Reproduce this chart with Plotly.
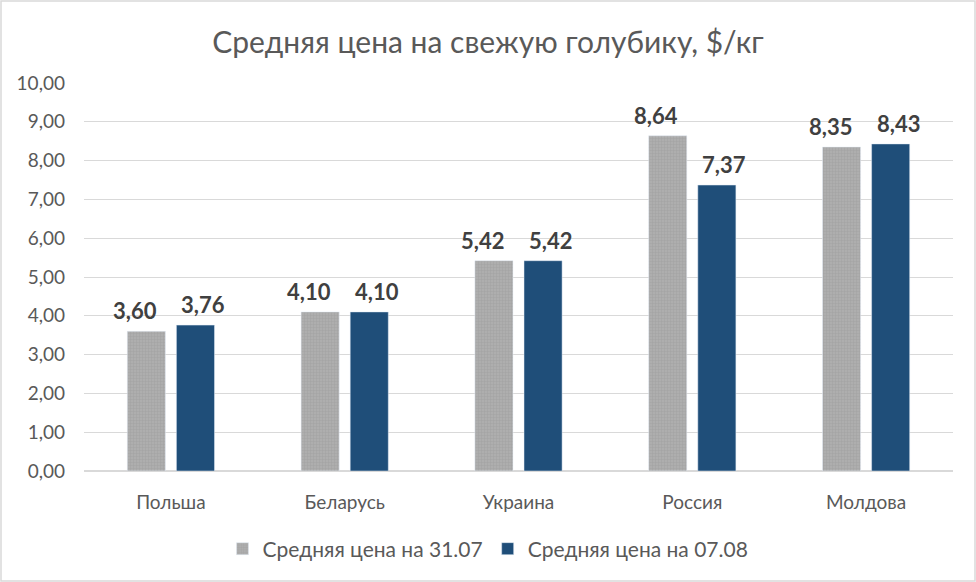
import plotly.graph_objects as go

categories = ["Польша", "Беларусь", "Украина", "Россия", "Молдова"]
series1_name = "Средняя цена на 31.07"
series2_name = "Средняя цена на 07.08"
series1 = [3.60, 4.10, 5.42, 8.64, 8.35]
series2 = [3.76, 4.10, 5.42, 7.37, 8.43]
title = "Средняя цена на свежую голубику, $/кг"

FONT = "Lato, Open Sans, sans-serif"
W, H = 976, 582
ML, MR, MT, MB = 84, 23, 83, 111

fig = go.Figure()
fig.add_trace(go.Bar(
    x=categories, y=series1, name=series1_name,
    marker=dict(color="#A6A6A6", pattern=dict(shape=".", fgcolor="#9A9A9A", bgcolor="#B0B0B0", size=3, solidity=0.5)),
))
fig.add_trace(go.Bar(
    x=categories, y=series2, name=series2_name,
    marker=dict(color="#1F4E79"),
))

for vals, shift in ((series1, -36), (series2, 32)):
    for c, v in zip(categories, vals):
        fig.add_annotation(x=c, y=v, xshift=shift, yshift=5, yanchor="bottom",
                           text=f"{v:.2f}".replace(".", ","), showarrow=False,
                           font=dict(family=FONT, size=22, color="#404040", weight="bold"))

pw = W - ML - MR
ph = H - MT - MB
fig.add_shape(type="rect", xref="paper", yref="paper",
              x0=-(ML - 1) / pw, x1=1 + (MR - 1) / pw,
              y0=-(MB - 1) / ph, y1=1 + (MT - 1) / ph,
              line=dict(color="#D9D9D9", width=1.5), layer="below")

fig.update_layout(
    width=W, height=H,
    margin=dict(l=ML, r=MR, t=MT, b=MB),
    paper_bgcolor="white", plot_bgcolor="white",
    separators=", ",
    barmode="group", bargap=0.435, bargroupgap=0.224,
    title=dict(text=title, x=0.5, xref="container", y=1 - 42 / H, yref="container",
               yanchor="middle", font=dict(family=FONT, size=30, color="#595959")),
    font=dict(family=FONT, color="#595959"),
    showlegend=True,
    legend=dict(orientation="h", x=0.5, xanchor="center", xref="container",
                y=1 - 549 / H, yref="container", yanchor="middle",
                font=dict(family=FONT, size=21, color="#595959"),
                itemwidth=30, traceorder="normal"),
    yaxis=dict(range=[0, 10], dtick=1, tickformat=".2f", showgrid=True,
               gridcolor="#D9D9D9", gridwidth=1, zeroline=True, zerolinecolor="#D9D9D9",
               tickfont=dict(family=FONT, size=19, color="#595959"), ticks="",
               ticklabelstandoff=18),
    xaxis=dict(showline=True, linecolor="#D9D9D9", ticks="",
               tickfont=dict(family=FONT, size=19, color="#595959"),
               ticklabelstandoff=14),
)

fig.write_html("out.html")
